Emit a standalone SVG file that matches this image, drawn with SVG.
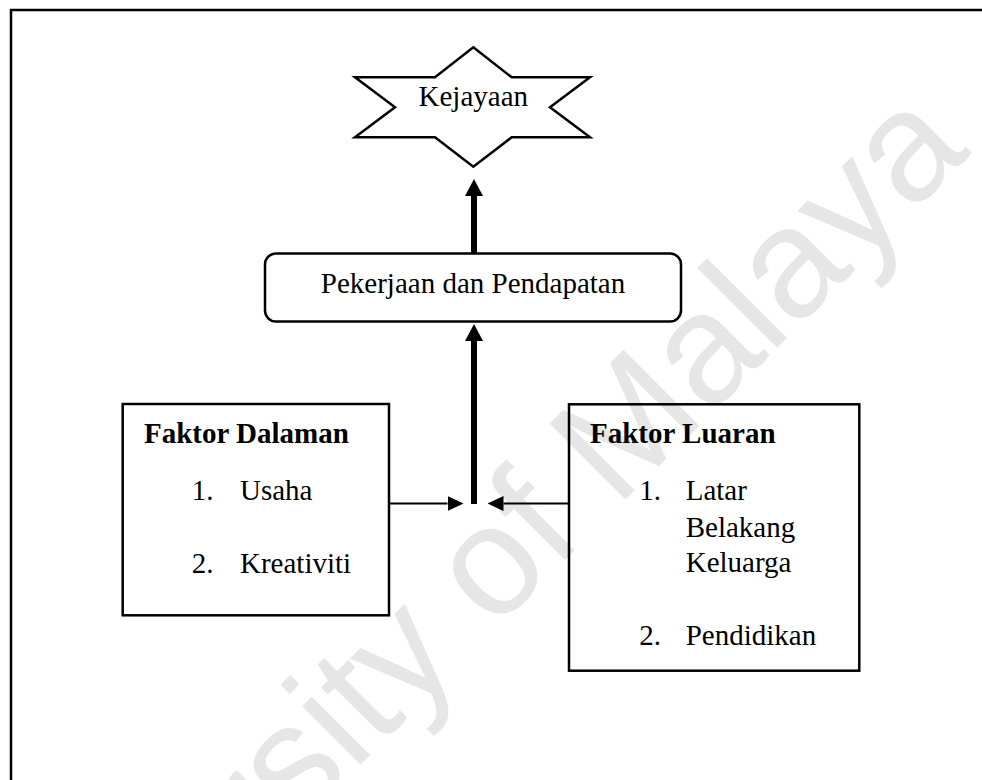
<svg xmlns="http://www.w3.org/2000/svg" width="982" height="780" viewBox="0 0 982 780">
  <style>
    .shape { fill: none; stroke: #000; stroke-width: 2.5; }
    .txt { font-family: "Liberation Serif", "Times New Roman", serif; font-size: 29px; fill: #000; }
    .bold { font-weight: bold; }
    .mid { text-anchor: middle; }
    .thick { fill: none; stroke: #000; stroke-width: 6; }
    .thin { fill: none; stroke: #000; stroke-width: 2; }
    .wm { font-family: "Liberation Sans", Arial, sans-serif; font-size: 156px; fill: #e6e6e6; }
  </style>
  <defs>
    <marker id="ah-thick" markerUnits="userSpaceOnUse" markerWidth="17" markerHeight="18" viewBox="0 -9 17 18" refX="0" refY="0" orient="auto">
      <path d="M0,-9 L17,0 L0,9 Z" fill="#000"/>
    </marker>
    <marker id="ah-thin" markerUnits="userSpaceOnUse" markerWidth="16" markerHeight="15" viewBox="0 -7.5 16 15" refX="0" refY="0" orient="auto">
      <path d="M0,-7.5 L16,0 L0,7.5 Z" fill="#000"/>
    </marker>
  </defs>
  <rect width="982" height="780" fill="#fff"/>

  <text class="wm" x="-21" y="1146" transform="rotate(-45 -21 1146)">University of Malaya</text>

  <rect id="frame" class="shape" x="11" y="10" width="1100" height="1000"/>

  <g id="kejayaan">
    <polygon class="shape" points="473.3,47.3 511.7,77.3 590,77.3 550,107.3 590,137.3 511.7,137.3 473.3,166.7 435,137.3 355,137.3 395,107.3 355,77.3 435,77.3"/>
    <text class="txt mid" x="473.3" y="106">Kejayaan</text>
  </g>

  <g id="pekerjaan">
    <rect class="shape" x="265" y="253.5" width="416" height="68" rx="11" ry="11"/>
    <text class="txt mid" x="473" y="293">Pekerjaan dan Pendapatan</text>
  </g>

  <g id="faktor-dalaman">
    <rect class="shape" x="122.7" y="404" width="266.3" height="211.3"/>
    <text class="txt bold" x="144" y="443">Faktor Dalaman</text>
    <text class="txt" x="191.7" y="500">1.</text>
    <text class="txt" x="240" y="500">Usaha</text>
    <text class="txt" x="191.7" y="573">2.</text>
    <text class="txt" x="240" y="573">Kreativiti</text>
  </g>

  <g id="faktor-luaran">
    <rect class="shape" x="569" y="404.3" width="290.3" height="266.4"/>
    <text class="txt bold" x="590" y="443">Faktor Luaran</text>
    <text class="txt" x="639.3" y="500">1.</text>
    <text class="txt" x="685.7" y="500">Latar</text>
    <text class="txt" x="685.7" y="537">Belakang</text>
    <text class="txt" x="685.7" y="572">Keluarga</text>
    <text class="txt" x="639.3" y="645">2.</text>
    <text class="txt" x="685.7" y="645">Pendidikan</text>
  </g>

  <g id="connectors">
    <path class="thick" d="M474,253.5 L474,196" marker-end="url(#ah-thick)"/>
    <path class="thick" d="M474,504 L474,341" marker-end="url(#ah-thick)"/>
    <path class="thin" d="M389,503.5 L447.5,503.5" marker-end="url(#ah-thin)"/>
    <path class="thin" d="M569,503.5 L503.5,503.5" marker-end="url(#ah-thin)"/>
  </g>
</svg>
